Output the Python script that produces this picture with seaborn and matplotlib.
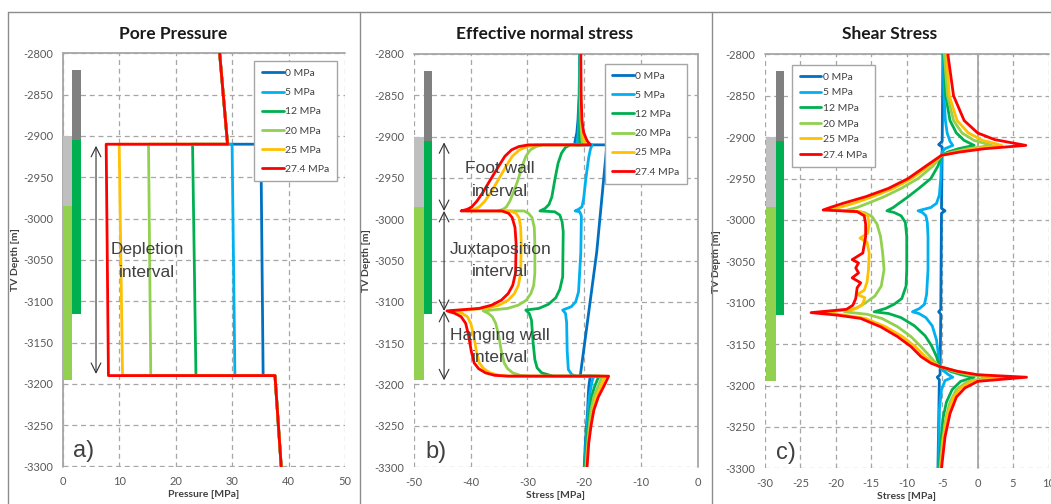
import matplotlib
matplotlib.use("Agg")
import matplotlib.pyplot as plt
from matplotlib.lines import Line2D
import pandas as pd
import seaborn as sns

sns.set_theme(style="white")
plt.rcParams["font.family"] = ["Lato", "DejaVu Sans"]
plt.rcParams["axes.unicode_minus"] = False

# ---------------- data ----------------
series_labels = ["0 MPa", "5 MPa", "12 MPa", "20 MPa", "25 MPa", "27.4 MPa"]
series_colors = ["#0070C0", "#00B0F0", "#00B050", "#92D050", "#FFC000", "#FF0000"]

# lithology columns (depth ranges)
litho_light_top = [-2900, -2985]
litho_light_bottom = [-2985, -3195]
litho_light_colors = ["#BFBFBF", "#92D050"]
litho_dark_top = [-2820, -2905]
litho_dark_bottom = [-2905, -3115]
litho_dark_colors = ["#808080", "#00B050"]

# a) pore pressure
pp_depth = [-2800, -2910, -2910, -3190, -3190, -3300]
pp_0 = [27.8, 29.2, 35.1, 35.5, 37.6, 38.7]
pp_5 = [27.8, 29.2, 30.0, 30.5, 37.6, 38.7]
pp_12 = [27.8, 29.2, 23.0, 23.6, 37.6, 38.7]
pp_20 = [27.8, 29.2, 15.2, 15.6, 37.6, 38.7]
pp_25 = [27.8, 29.2, 10.0, 10.6, 37.6, 38.7]
pp_27 = [27.8, 29.2, 7.7, 8.1, 37.6, 38.7]

# b) effective normal stress  (depth, stress)
ens_0 = [(-2800, -20.8), (-2850, -20.9), (-2880, -21.1), (-2895, -21.3), (-2905, -21.6), (-2910, -21.7),
         (-2910, -16.0), (-3040, -17.8), (-3190, -20.7), (-3190, -18.9), (-3193, -19.0), (-3203, -19.2),
         (-3215, -19.3), (-3231, -19.4), (-3250, -19.6), (-3271, -19.8), (-3300, -20.0)]
ens_5 = [(-2800, -20.8), (-2850, -20.85), (-2880, -20.95), (-2895, -21.05), (-2905, -21.2), (-2910, -21.3),
         (-2910, -18.6), (-2915, -18.9), (-2925, -19.2), (-2950, -19.7), (-2975, -20.1), (-2985, -20.4),
         (-2988, -21.0), (-2990, -21.6), (-2991, -20.8), (-2996, -20.5), (-3040, -20.6), (-3088, -21.0),
         (-3100, -21.5), (-3106, -22.3), (-3110, -23.8), (-3114, -23.3), (-3125, -23.1), (-3160, -23.0),
         (-3182, -22.8), (-3188, -22.2), (-3190, -21.5), (-3190, -18.2), (-3193, -18.5), (-3203, -18.8),
         (-3215, -19.1), (-3231, -19.3), (-3250, -19.5), (-3271, -19.7), (-3300, -19.9)]
ens_12 = [(-2800, -20.75), (-2850, -20.8), (-2880, -20.8), (-2895, -20.8), (-2905, -20.8), (-2910, -20.8),
          (-2910, -22.4), (-2913, -23.3), (-2920, -24.0), (-2932, -24.6), (-2953, -25.2), (-2973, -25.7),
          (-2982, -26.2), (-2987, -26.9), (-2990, -27.8), (-2991, -25.2), (-2995, -24.3), (-3003, -23.9),
          (-3015, -23.7), (-3070, -23.8), (-3085, -24.3), (-3095, -25.0), (-3103, -26.3), (-3108, -28.0),
          (-3110, -30.3), (-3114, -29.7), (-3122, -29.3), (-3150, -29.0), (-3170, -28.7), (-3180, -28.3),
          (-3186, -27.5), (-3190, -25.5), (-3190, -17.3), (-3193, -17.6), (-3203, -18.2), (-3215, -18.7),
          (-3231, -19.0), (-3250, -19.3), (-3271, -19.6), (-3300, -19.8)]
ens_20 = [(-2800, -20.7), (-2850, -20.7), (-2880, -20.6), (-2895, -20.5), (-2905, -20.4), (-2910, -20.3),
          (-2910, -27.3), (-2912, -28.5), (-2916, -29.5), (-2924, -30.3), (-2935, -30.9), (-2953, -31.7),
          (-2968, -32.5), (-2978, -33.1), (-2985, -33.7), (-2988, -34.3), (-2990, -35.2), (-2990, -30.6),
          (-2993, -29.8), (-2998, -29.2), (-3010, -28.8), (-3030, -28.7), (-3065, -28.7), (-3080, -28.9),
          (-3090, -29.4), (-3098, -30.2), (-3104, -31.6), (-3108, -33.5), (-3111, -37.8), (-3114, -36.9),
          (-3118, -36.2), (-3126, -35.6), (-3140, -35.1), (-3160, -34.6), (-3174, -34.1), (-3181, -33.5),
          (-3186, -32.6), (-3189, -31.3), (-3190, -29.5), (-3190, -16.8), (-3193, -17.0), (-3203, -17.6),
          (-3215, -18.3), (-3231, -18.8), (-3250, -19.1), (-3271, -19.4), (-3300, -19.7)]
ens_25 = [(-2800, -20.65), (-2850, -20.6), (-2880, -20.5), (-2895, -20.3), (-2905, -20.0), (-2910, -19.7),
          (-2910, -28.5), (-2912, -30.0), (-2916, -31.4), (-2924, -32.7), (-2935, -33.7), (-2953, -35.2),
          (-2968, -36.5), (-2978, -37.5), (-2985, -38.5), (-2988, -39.3), (-2990, -40.7), (-2990, -33.0),
          (-2993, -32.0), (-2998, -31.5), (-3010, -31.2), (-3030, -31.1), (-3065, -31.2), (-3080, -31.6),
          (-3090, -32.3), (-3098, -33.4), (-3104, -35.0), (-3108, -37.2), (-3111, -43.5), (-3114, -41.5),
          (-3118, -40.6), (-3126, -40.0), (-3140, -39.5), (-3160, -39.0), (-3174, -38.5), (-3181, -37.7),
          (-3186, -36.6), (-3189, -35.0), (-3190, -33.0), (-3190, -16.3), (-3193, -16.5), (-3203, -17.1),
          (-3215, -17.9), (-3231, -18.5), (-3250, -18.9), (-3271, -19.3), (-3300, -19.6)]
ens_27 = [(-2800, -20.6), (-2850, -20.55), (-2880, -20.4), (-2895, -20.1), (-2905, -19.5), (-2910, -18.9),
          (-2910, -29.8), (-2912, -31.5), (-2916, -32.8), (-2924, -34.0), (-2935, -35.0), (-2953, -36.6),
          (-2968, -37.9), (-2978, -38.9), (-2985, -39.8), (-2988, -40.6), (-2990, -41.7), (-2990, -34.5),
          (-2993, -33.3), (-2998, -32.7), (-3010, -32.2), (-3030, -32.0), (-3065, -32.1), (-3080, -32.6),
          (-3090, -33.4), (-3098, -34.6), (-3104, -36.3), (-3108, -38.5), (-3111, -44.2), (-3114, -42.8),
          (-3118, -41.7), (-3126, -40.9), (-3140, -40.4), (-3160, -39.9), (-3174, -39.4), (-3181, -38.6),
          (-3186, -37.4), (-3189, -35.8), (-3190, -33.5), (-3190, -15.7), (-3193, -15.9), (-3203, -16.6),
          (-3215, -17.5), (-3231, -18.3), (-3250, -18.8), (-3271, -19.2), (-3300, -19.5)]

# c) shear stress  (depth, stress)
sh_0 = [(-2800, -4.9), (-2905, -5.0), (-2909, -5.5), (-2912, -5.0), (-2986, -5.1), (-2989, -4.6),
        (-2992, -5.1), (-3108, -5.2), (-3111, -5.5), (-3114, -5.2), (-3187, -5.3), (-3190, -5.7),
        (-3193, -5.4), (-3300, -5.6)]
sh_5 = [(-2800, -4.85), (-2850, -4.75), (-2880, -4.55), (-2895, -4.3), (-2905, -3.9), (-2910, -3.5),
        (-2914, -4.6), (-2918, -5.0), (-2922, -5.1), (-2950, -5.2), (-2970, -5.4), (-2980, -5.8),
        (-2985, -6.6), (-2989, -8.4), (-2991, -7.8), (-2995, -7.3), (-3003, -7.1), (-3020, -7.0),
        (-3060, -7.0), (-3090, -7.2), (-3102, -7.5), (-3107, -8.2), (-3111, -9.2), (-3113, -8.3),
        (-3118, -7.3), (-3128, -6.4), (-3145, -5.8), (-3165, -5.5), (-3177, -5.4), (-3183, -4.7),
        (-3187, -4.1), (-3190, -3.5), (-3194, -4.6), (-3205, -5.1), (-3230, -5.4), (-3300, -5.5)]
sh_12 = [(-2800, -4.8), (-2850, -4.5), (-2880, -3.9), (-2895, -3.0), (-2904, -1.9), (-2910, -0.5),
         (-2914, -2.7), (-2918, -4.2), (-2922, -5.1), (-2935, -5.6), (-2950, -6.6), (-2962, -8.3),
         (-2972, -9.8), (-2980, -11.1), (-2985, -11.9), (-2989, -12.8), (-2991, -11.8), (-2995, -10.8),
         (-3003, -10.2), (-3020, -10.0), (-3060, -10.0), (-3080, -10.1), (-3095, -10.7), (-3102, -11.8),
         (-3107, -13.0), (-3111, -14.6), (-3113, -12.6), (-3118, -10.8), (-3128, -8.9), (-3140, -7.4),
         (-3152, -6.5), (-3165, -5.8), (-3177, -5.4), (-3183, -3.8), (-3187, -2.3), (-3190, -0.5),
         (-3195, -2.4), (-3205, -3.6), (-3220, -4.4), (-3240, -4.9), (-3270, -5.2), (-3300, -5.4)]
sh_20 = [(-2800, -4.7), (-2850, -4.25), (-2880, -3.4), (-2895, -2.2), (-2904, -0.5), (-2910, 2.0),
         (-2914, -1.3), (-2918, -3.5), (-2922, -5.1), (-2935, -6.3), (-2950, -8.4), (-2962, -10.8),
         (-2972, -13.2), (-2980, -15.5), (-2985, -17.0), (-2989, -18.8), (-2991, -16.0), (-2996, -14.9),
         (-3005, -14.2), (-3020, -13.7), (-3040, -13.4), (-3060, -13.2), (-3080, -13.6), (-3092, -14.5),
         (-3100, -15.8), (-3106, -17.0), (-3111, -18.8), (-3114, -15.6), (-3119, -13.5), (-3129, -11.3),
         (-3141, -9.4), (-3153, -8.0), (-3165, -6.7), (-3173, -5.9), (-3177, -5.4), (-3183, -3.3),
         (-3187, -1.3), (-3190, 2.0), (-3195, -1.4), (-3205, -3.0), (-3220, -3.9), (-3240, -4.5),
         (-3270, -5.0), (-3300, -5.3)]
sh_25 = [(-2800, -4.4), (-2850, -4.0), (-2880, -2.9), (-2895, -1.3), (-2904, 0.7), (-2910, 3.4),
         (-2914, -0.5), (-2918, -3.0), (-2922, -5.1), (-2935, -6.9), (-2950, -9.3), (-2962, -11.9),
         (-2972, -14.8), (-2980, -17.5), (-2985, -19.5), (-2988, -21.0), (-2990, -16.5), (-2995, -15.5),
         (-3005, -15.3), (-3016, -15.5), (-3022, -16.6), (-3027, -15.6), (-3040, -15.3), (-3060, -15.4),
         (-3075, -15.6), (-3085, -16.0), (-3090, -17.0), (-3094, -15.9), (-3103, -16.3), (-3108, -17.5),
         (-3112, -22.0), (-3115, -18.8), (-3119, -15.8), (-3129, -13.0), (-3141, -10.6), (-3153, -8.8),
         (-3165, -7.4), (-3173, -6.2), (-3177, -5.4), (-3182, -3.3), (-3186, -1.2), (-3190, 3.8),
         (-3195, -0.8), (-3203, -2.4), (-3214, -3.4), (-3234, -4.2), (-3262, -4.8), (-3300, -5.2)]
sh_27 = [(-2800, -4.2), (-2850, -3.4), (-2880, -1.9), (-2895, 0.0), (-2903, 2.4), (-2910, 6.8),
         (-2914, 1.0), (-2918, -2.5), (-2922, -5.1), (-2935, -7.3), (-2950, -9.8), (-2962, -12.6),
         (-2972, -15.8), (-2980, -19.0), (-2985, -20.8), (-2988, -21.8), (-2990, -17.0), (-2995, -16.0),
         (-3005, -15.8), (-3020, -15.8), (-3040, -16.2), (-3048, -17.7), (-3052, -16.8), (-3058, -17.2),
         (-3064, -16.8), (-3070, -17.7), (-3076, -16.5), (-3082, -17.0), (-3095, -17.2), (-3103, -17.6),
         (-3108, -18.5), (-3112, -23.5), (-3115, -19.8), (-3119, -16.5), (-3129, -13.7), (-3141, -11.3),
         (-3153, -9.4), (-3165, -8.0), (-3173, -6.6), (-3177, -5.4), (-3183, -2.8), (-3187, 0.0),
         (-3190, 6.9), (-3195, 0.0), (-3203, -1.8), (-3214, -3.0), (-3234, -3.9), (-3262, -4.6),
         (-3300, -5.1)]

# ---------------- helpers ----------------
GRID = "#A6A6A6"
TXT = "#404040"
W, H = 1051, 504


def frame_from_pairs(series):
    rows = []
    for lab, pts in zip(series_labels, series):
        for i, (d, v) in enumerate(pts):
            rows.append((lab, i, d, v))
    return pd.DataFrame(rows, columns=["series", "order", "depth", "value"])


def frame_from_lists(depth, series):
    rows = []
    for lab, vals in zip(series_labels, series):
        for i, (d, v) in enumerate(zip(depth, vals)):
            rows.append((lab, i, d, v))
    return pd.DataFrame(rows, columns=["series", "order", "depth", "value"])


fig = plt.figure(figsize=(W / 100, H / 100), dpi=100)
fig.patch.set_facecolor("white")


def px_axes(l, t, r, b):
    return fig.add_axes([l / W, 1 - b / H, (r - l) / W, (b - t) / H])


def style(ax, xlim, xticks, zero_x, xlabel, ylab_x, xlab_y):
    ax.set_facecolor("white")
    ax.set_xlim(*xlim)
    ax.set_ylim(-3300, -2800)
    ax.set_xticks(xticks)
    ax.set_yticks(list(range(-3300, -2799, 50)))
    ax.set_axisbelow(True)
    ax.grid(True, color=GRID, linestyle=(0, (4, 3)), linewidth=0.9)
    for s in ax.spines.values():
        s.set_visible(False)
    ax.axhline(-2800, color=GRID, lw=1.3, zorder=1, clip_on=False)
    ax.axvline(zero_x, color=GRID, lw=1.3, zorder=1, clip_on=False)
    ax.tick_params(length=0, labelsize=8, labelcolor="#595959", pad=7)
    ax.set_xlabel(xlabel, fontsize=7.5, fontweight="bold", color=TXT)
    ax.set_ylabel("TV Depth [m]", fontsize=7.5, fontweight="bold", color=TXT)
    ax.yaxis.set_label_coords(ylab_x, 0.5)
    ax.xaxis.set_label_coords(0.5, xlab_y)


def litho(ax, light_frac, dark_frac):
    x0, x1 = ax.get_xlim()
    span = x1 - x0
    for tops, bots, cols, (f0, f1) in [
        (litho_light_top, litho_light_bottom, litho_light_colors, light_frac),
        (litho_dark_top, litho_dark_bottom, litho_dark_colors, dark_frac),
    ]:
        for t, b, c in zip(tops, bots, cols):
            ax.bar(x0 + (f0 + f1) / 2 * span, t - b, bottom=b, width=(f1 - f0) * span,
                   color=c, linewidth=0, zorder=1.5)


def curves(ax, df):
    sns.lineplot(data=df, x="value", y="depth", hue="series", hue_order=series_labels,
                 palette=series_colors, sort=False, estimator=None, legend=False,
                 linewidth=2.0, ax=ax, zorder=3, solid_joinstyle="round")


def legend(ax, anchor, loc, spacing):
    handles = [Line2D([0], [0], color=c, lw=2) for c in series_colors]
    lg = ax.legend(handles, series_labels, loc=loc, bbox_to_anchor=anchor, fontsize=7.5,
                   frameon=True, fancybox=False, edgecolor=GRID, framealpha=1,
                   handlelength=2.1, handletextpad=0.15, labelspacing=spacing, borderpad=0.7)
    lg.get_frame().set_linewidth(1.0)
    for t in lg.get_texts():
        t.set_color(TXT)
    lg.set_zorder(5)


def arrow(ax, x, y0, y1):
    ax.annotate("", xy=(x, y0), xytext=(x, y1),
                arrowprops=dict(arrowstyle="<->,head_length=0.7,head_width=0.35",
                                color="#303030", lw=0.8, mutation_scale=10,
                                shrinkA=0, shrinkB=0), zorder=4)


ANN = dict(family=["Liberation Sans", "DejaVu Sans"], color=TXT, ha="center", va="center",
           fontsize=12.5, linespacing=1.65, zorder=6)

# ---------------- panel a ----------------
ax_a = px_axes(62.7, 53.3, 345.0, 466.5)
style(ax_a, (0, 50), [0, 10, 20, 30, 40, 50], 0, "Pressure [MPa]", -0.152, -0.058)
litho(ax_a, (0.002, 0.034), (0.034, 0.065))
curves(ax_a, frame_from_lists(pp_depth, [pp_0, pp_5, pp_12, pp_20, pp_25, pp_27]))
legend(ax_a, (0.989, 0.993), "upper right", 0.95)
arrow(ax_a, 5.9, -2912, -3188)
ax_a.text(15.0, -3051, "Depletion\ninterval", **ANN)
ax_a.text(0.075, 0.0375, "a)", transform=ax_a.transAxes, fontsize=17,
          family=["Liberation Sans", "DejaVu Sans"], color=TXT, ha="center", va="center")

# ---------------- panel b ----------------
ax_b = px_axes(414.0, 54.0, 697.7, 467.0)
style(ax_b, (-50, 0), [-50, -40, -30, -20, -10, 0], 0, "Stress [MPa]", -0.152, -0.058)
litho(ax_b, (0.0, 0.035), (0.035, 0.065))
curves(ax_b, frame_from_pairs([ens_0, ens_5, ens_12, ens_20, ens_25, ens_27]))
legend(ax_b, (0.980, 0.988), "upper right", 0.95)
arrow(ax_b, -44.7, -2907, -2990)
arrow(ax_b, -44.7, -2990, -3111)
arrow(ax_b, -44.7, -3111, -3195)
ax_b.text(-34.8, -2953, "Foot wall\ninterval", **ANN)
ax_b.text(-34.8, -3050, "Juxtaposition\ninterval", **ANN)
ax_b.text(-34.8, -3154, "Hanging wall\ninterval", **ANN)
ax_b.text(0.0775, 0.0375, "b)", transform=ax_b.transAxes, fontsize=17,
          family=["Liberation Sans", "DejaVu Sans"], color=TXT, ha="center", va="center")

# ---------------- panel c ----------------
ax_c = px_axes(765.0, 54.3, 1048.5, 468.3)
style(ax_c, (-30, 10), [-30, -25, -20, -15, -10, -5, 0, 5, 10], 0, "Stress [MPa]", -0.156, -0.058)
litho(ax_c, (0.004, 0.039), (0.039, 0.068))
curves(ax_c, frame_from_pairs([sh_0, sh_5, sh_12, sh_20, sh_25, sh_27]))
legend(ax_c, (0.078, 0.986), "upper left", 0.6)
ax_c.text(0.074, 0.0375, "c)", transform=ax_c.transAxes, fontsize=17,
          family=["Liberation Sans", "DejaVu Sans"], color=TXT, ha="center", va="center")

# ---------------- titles and chart-area frames ----------------
for cx, title in [(173.5, "Pore Pressure"), (545, "Effective normal stress"), (889.5, "Shear Stress")]:
    fig.text(cx / W, 1 - 34.3 / H, title, ha="center", va="center", fontsize=12.5,
             fontweight="bold", color="#1a1a1a")

FRAME = "#8C8C8C"
fig.add_artist(Line2D([8.3 / W, 1.0], [1 - 12.3 / H] * 2, transform=fig.transFigure, color=FRAME, lw=1))
for x in [8.3, 359.5, 711.5]:
    fig.add_artist(Line2D([x / W] * 2, [0, 1 - 12.3 / H], transform=fig.transFigure, color=FRAME, lw=1))

fig.savefig("out.png", dpi=100, facecolor="white")
